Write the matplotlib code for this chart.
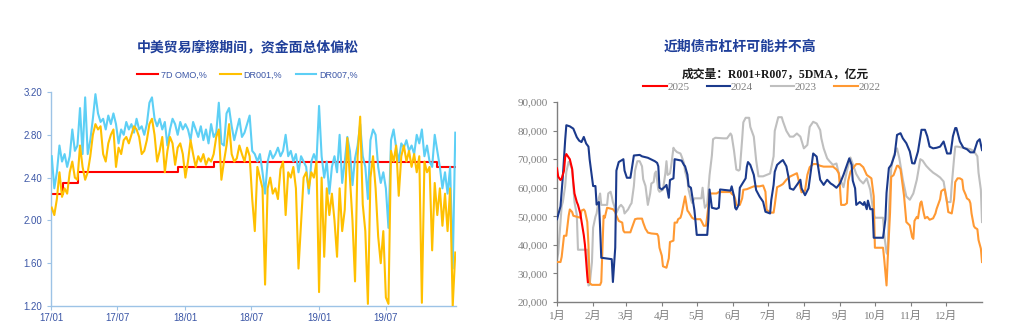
import matplotlib
matplotlib.use("Agg")
import matplotlib.pyplot as plt
import matplotlib.dates as mdates
from matplotlib.ticker import FuncFormatter
import pandas as pd

# ---------------- left panel data (weekly samples) ----------------
week_dates = pd.date_range("2017-01-03", periods=158, freq="7D")

dr001 = [
    2.12, 2.05, 2.20, 2.45, 2.22, 2.30, 2.25, 2.45, 2.55, 2.40,
    2.38, 2.70, 2.50, 2.38, 2.45, 2.60, 2.80, 2.90, 2.85, 2.88,
    2.62, 2.55, 2.72, 2.80, 2.85, 2.50, 2.68, 2.62, 2.75, 2.78,
    2.72, 2.80, 2.88, 2.85, 2.78, 2.62, 2.65, 2.75, 2.90, 2.95,
    2.80, 2.55, 2.65, 2.78, 2.45, 2.65, 2.78, 2.72, 2.52, 2.68,
    2.72, 2.62, 2.40, 2.55, 2.75, 2.62, 2.50, 2.60, 2.55, 2.62,
    2.52, 2.58, 2.55, 2.62, 2.78, 2.85, 2.38, 2.55, 2.70, 2.90,
    2.62, 2.55, 2.58, 2.70, 2.62, 2.55, 2.68, 2.60, 2.20, 1.90,
    2.50, 2.40, 2.30, 1.40, 2.30, 2.40, 2.25, 2.30, 2.20, 2.48,
    2.55, 2.05, 2.45, 2.40, 2.50, 2.30, 1.55, 1.97, 2.40, 2.45,
    2.30, 2.45, 2.40, 2.55, 1.33, 2.40, 1.66, 2.30, 2.05, 2.25,
    2.00, 1.66, 2.30, 1.90, 2.10, 2.77, 2.40, 2.00, 1.43, 2.60,
    2.97, 2.15, 1.90, 1.22, 2.40, 2.60, 2.30, 1.85, 1.60, 1.90,
    1.28, 1.22, 2.65, 2.55, 2.70, 2.23, 2.60, 2.70, 2.55, 2.65,
    2.50, 2.62, 2.45, 2.60, 1.23, 2.55, 2.45, 2.50, 1.72, 2.35,
    2.05, 2.30, 1.95, 2.25, 1.90, 2.30, 1.20, 1.70]

dr007 = [
    2.60, 2.30, 2.45, 2.70, 2.55, 2.62, 2.50, 2.60, 2.85, 2.65,
    2.70, 3.05, 2.62, 3.15, 2.62, 2.75, 2.95, 3.18, 3.00, 2.92,
    2.95, 2.85, 2.98, 2.90, 3.00, 2.90, 2.72, 2.85, 2.80, 2.92,
    2.85, 2.90, 2.82, 2.95, 2.85, 2.88, 2.80, 2.90, 3.10, 3.15,
    2.95, 2.88, 2.95, 2.85, 2.92, 2.70, 2.85, 2.95, 2.90, 2.80,
    2.92, 2.85, 2.90, 2.85, 2.75, 2.92, 2.85, 2.78, 2.88, 2.75,
    2.85, 2.72, 2.90, 2.78, 2.82, 3.10, 2.72, 2.70, 3.00, 3.05,
    2.88, 2.75, 2.85, 2.95, 2.78, 2.82, 2.90, 2.98, 2.65, 2.62,
    2.55, 2.62, 2.45, 2.25, 2.55, 2.65, 2.58, 2.62, 2.68, 2.60,
    2.65, 2.80, 2.60, 2.65, 2.55, 2.62, 2.45, 2.60, 2.55, 2.50,
    2.25, 2.55, 2.62, 2.55, 3.07, 2.60, 2.40, 2.55, 2.25, 2.50,
    2.60, 2.45, 2.80, 2.35, 2.55, 2.78, 2.65, 2.33, 2.58, 2.70,
    2.90, 2.60, 2.50, 2.20, 2.75, 2.85, 2.80, 2.50, 2.35, 2.45,
    2.30, 1.93, 2.75, 2.85, 2.68, 2.55, 2.72, 2.68, 2.75, 2.65,
    2.70, 2.62, 2.80, 2.72, 2.85, 2.60, 2.70, 2.55, 2.50, 2.80,
    2.65, 2.50, 2.30, 2.45, 2.25, 2.50, 1.55, 2.82]

omo_dates = pd.to_datetime(["2017-01-03", "2017-02-03", "2017-03-16", "2017-12-14",
                            "2018-03-22", "2019-11-18", "2020-01-07"])
omo_rates = [2.25, 2.35, 2.45, 2.50, 2.55, 2.50, 2.50]

left_yticks = [1.20, 1.60, 2.00, 2.40, 2.80, 3.20]
left_xticks = pd.to_datetime(["2017-01-01", "2017-07-01", "2018-01-01",
                              "2018-07-01", "2019-01-01", "2019-07-01"])

# ---------------- right panel data (day of year, 5DMA volume) ----------------
d2025 = [0, 1, 3, 4, 6, 7, 8, 10, 11, 13, 14, 15, 17, 18, 20, 21, 23, 24, 26, 26.5]
v2025 = [66800, 63900, 62700, 63200, 66000, 70700, 71800, 70600, 70000, 66600,
         62000, 58000, 55000, 54000, 51000, 48400, 43400, 40000, 29100, 27000]

d2024 = [0, 3, 5, 7, 8, 11, 14, 17, 19, 21, 23, 25, 27, 28, 30, 31, 33, 34, 36, 37,
         38, 47, 48, 50, 51, 53, 57, 58, 60, 63, 64, 66, 71, 73, 78, 84, 86, 87, 88, 90,
         93, 94, 96, 97, 100, 101, 107, 109, 110, 112, 113, 115, 116, 118, 119, 120, 129, 130, 131, 133,
         137, 139, 140, 149, 150, 152, 153, 154, 156, 157, 162, 163, 164, 166, 169, 171, 174, 177, 179, 183,
         184, 186, 187, 189, 192, 194, 197, 199, 200, 203, 206, 209, 210, 213, 216, 217, 219, 220, 223, 224,
         226, 229, 232, 235, 237, 240, 243, 246, 249, 251, 253, 254, 256, 257, 260, 263, 264, 266, 267, 269,
         271, 272, 280, 282, 283, 285, 287, 290, 292, 295, 297, 300, 303, 305, 307, 310, 313, 316, 318, 320,
         323, 326, 329, 332, 335, 338, 340, 342, 343, 346, 349, 352, 355, 358, 361, 363, 365]
v2024 = [49000, 53500, 63900, 76700, 81900, 81500, 80700, 77700, 76500, 76000,
         77800, 75500, 74400, 70000, 63900, 60600, 60600, 54100, 55000, 46000,
         35500, 35000, 27000, 39000, 66000, 69000, 70000, 66000, 63500, 63500,
         66000, 71300, 71500, 71000, 70500, 69300, 68700, 67500, 60000, 59400,
         60500, 61000, 56500, 62700, 63300, 70000, 69500, 68000, 67500, 64600,
         60600, 60000, 57300, 52100, 48000, 43500, 43500, 49000, 59400, 53000,
         52600, 53000, 59400, 59000, 60500, 57000, 53000, 52400, 54000, 60000,
         63300, 67300, 69000, 68000, 64500, 59200, 56900, 55100, 51600, 51000,
         55700, 61000, 65600, 68000, 69100, 69700, 67500, 63300, 59800, 59300,
         61000, 62800, 59800, 57400, 59800, 62800, 69100, 72000, 70900, 68000,
         62800, 61000, 62800, 61500, 61000, 60000, 61500, 64500, 68000, 70300,
         68000, 62500, 59800, 54000, 55000, 54000, 55000, 52500, 55500, 52500,
         52500, 42500, 42500, 48900, 58200, 66900, 68000, 71500, 78500, 79100,
         77300, 75600, 72700, 68600, 68500, 72700, 80300, 80300, 78000, 74400,
         73800, 74000, 74400, 76200, 72000, 72000, 78000, 80900, 80900, 76200,
         74000, 73500, 72400, 72400, 76200, 77000, 73200]

d2023 = [0, 1, 3, 4, 5, 7, 8, 10, 11, 13, 14, 15, 17, 18, 26, 27, 28, 30, 31, 33,
         34, 36, 37, 38, 43, 44, 46, 47, 48, 50, 51, 53, 54, 55, 57, 58, 61, 63, 64, 66,
         67, 69, 71, 73, 74, 76, 77, 78, 80, 81, 83, 84, 85, 87, 88, 91, 93, 94, 95, 97,
         98, 100, 101, 103, 106, 107, 109, 110, 112, 113, 115, 116, 118, 124, 125, 126, 127, 129, 130, 131,
         133, 134, 136, 143, 146, 149, 150, 152, 154, 156, 157, 159, 160, 162, 165, 166, 169, 171, 173, 177,
         180, 183, 186, 187, 190, 193, 194, 197, 200, 203, 206, 209, 212, 215, 217, 220, 223, 226, 227, 229,
         232, 234, 237, 240, 243, 246, 249, 252, 254, 257, 260, 263, 266, 269, 272, 273, 280, 281, 283, 284,
         285, 287, 289, 292, 294, 297, 300, 303, 306, 309, 312, 314, 317, 320, 323, 326, 329, 332, 335, 338,
         339, 341, 342, 344, 355, 358, 361, 362, 364, 365]
v2023 = [35000, 37000, 47800, 53600, 55000, 60600, 65600, 69100, 68500, 66400,
         60600, 55000, 50500, 38300, 38300, 25800, 26000, 34000, 46000, 49900,
         51000, 56500, 58000, 54000, 54000, 58000, 58600, 57000, 55000, 52400,
         51200, 53000, 53600, 54000, 53000, 51000, 52400, 54000, 54600, 60600,
         66000, 69300, 69300, 67500, 63000, 60600, 57400, 54000, 58000, 61500,
         62000, 65000, 65700, 59300, 58600, 59300, 65000, 69300, 64500, 65000,
         67500, 74000, 73300, 72500, 72000, 71000, 68700, 65700, 62800, 59300,
         55900, 54700, 56300, 56300, 60000, 56000, 53000, 54200, 59300, 64400,
         71300, 77000, 77500, 77300, 77300, 79000, 78300, 73000, 66400, 66000,
         66400, 77000, 82900, 84500, 84500, 81300, 77900, 69700, 64000, 64000,
         64500, 65000, 71000, 79900, 84700, 84700, 83300, 79900, 77900, 77900,
         79000, 77900, 73800, 75000, 81300, 83100, 82500, 80200, 77300, 73800,
         70300, 69300, 68000, 68500, 63100, 60200, 66000, 70600, 68300, 64800,
         62700, 61500, 63300, 59300, 50600, 49500, 49500, 43500, 37300, 36700,
         52000, 66800, 71000, 73800, 70300, 62800, 57000, 55800, 58000, 62800,
         70000, 69500, 67700, 66400, 65300, 64500, 63600, 62200, 55000, 55000,
         61000, 70300, 74400, 74400, 73500, 72800, 71000, 65300, 59300, 48000]

d2022 = [0, 3, 4, 6, 8, 10, 11, 13, 14, 20, 21, 23, 24, 26, 27, 28, 30, 37, 38, 40,
         41, 43, 48, 50, 51, 53, 56, 57, 58, 63, 64, 66, 67, 69, 73, 74, 76, 77, 78, 81,
         86, 87, 88, 90, 91, 94, 96, 97, 100, 101, 103, 104, 106, 107, 109, 110, 112, 113, 115, 116,
         118, 123, 124, 126, 128, 129, 130, 131, 137, 139, 149, 150, 152, 153, 154, 157, 159, 160, 163, 166,
         169, 174, 177, 179, 180, 183, 186, 187, 189, 192, 194, 197, 200, 203, 206, 209, 210, 213, 215, 217,
         220, 223, 226, 229, 237, 240, 242, 243, 244, 247, 249, 250, 252, 254, 257, 260, 263, 266, 269, 270,
         272, 273, 280, 281, 283, 284, 286, 287, 289, 292, 293, 295, 296, 298, 300, 303, 305, 306, 307, 309,
         310, 312, 313, 315, 316, 318, 320, 323, 325, 326, 329, 330, 332, 333, 335, 336, 339, 341, 342, 344,
         346, 348, 349, 351, 352, 354, 355, 356, 358, 359, 361, 362, 364, 365]
v2022 = [34000, 34000, 35800, 43200, 43200, 50200, 52400, 51500, 50200, 49500,
         52000, 52400, 51800, 48000, 40000, 26600, 26000, 26000, 27000, 50200,
         49500, 53000, 52500, 51500, 50200, 48400, 47800, 45000, 44400, 44400,
         45600, 47800, 49000, 49200, 49200, 47800, 45600, 45000, 44300, 44000,
         43800, 43000, 39000, 36200, 32500, 32000, 35300, 41000, 41500, 47800,
         47800, 49000, 49500, 50800, 55000, 57000, 52000, 51500, 50200, 49500,
         49000, 49000, 48400, 46700, 46700, 50200, 53500, 58000, 58000, 58500,
         58500, 57900, 57300, 56100, 54000, 54000, 56300, 59300, 59500, 60000,
         60500, 60500, 60800, 58600, 52300, 51300, 51300, 54000, 60200, 60800,
         61300, 62800, 63900, 64500, 65100, 60200, 58400, 59000, 64500, 67200,
         68300, 68300, 67700, 67400, 67400, 66400, 65100, 60200, 54000, 54000,
         54600, 62300, 65600, 66800, 68300, 68300, 67200, 64500, 63600, 63300,
         57000, 39000, 39000, 35000, 25800, 35000, 51200, 63800, 64400, 67700,
         67700, 66500, 63500, 57300, 48000, 46800, 42700, 42100, 48400, 49800,
         49300, 54600, 55200, 51000, 49300, 49800, 48800, 49300, 51000, 52600,
         56000, 58800, 59400, 59400, 54600, 51500, 51000, 56000, 62000, 63300,
         63300, 62800, 59400, 57500, 56300, 55700, 54600, 51000, 46600, 46000,
         45500, 41700, 38700, 34000]

month_starts = [0, 31, 59, 90, 120, 151, 181, 212, 243, 273, 304, 334]
month_labels = ["1月", "2月", "3月", "4月", "5月", "6月",
                "7月", "8月", "9月", "10月", "11月", "12月"]
right_yticks = [20000, 30000, 40000, 50000, 60000, 70000, 80000, 90000]

# ---------------- figure ----------------
plt.rcParams["font.family"] = ["Liberation Sans", "Noto Sans CJK SC"]
fig = plt.figure(figsize=(10.10, 3.31), dpi=100)

title_color = "#1F3F9A"
cjk = ["Noto Sans CJK SC"]

# left panel
ax1 = fig.add_axes([0.0505, 0.0755, 0.401, 0.6465])
axis_blue = "#9DC3E6"
tick_blue = "#3B56A6"

ax1.step(omo_dates, omo_rates, where="post", color="#FF0000", lw=1.5, zorder=2, label="7D OMO,%")
ax1.plot(week_dates, dr007, color="#5DCFF5", lw=1.5, zorder=3, label="DR007,%")
ax1.plot(week_dates, dr001, color="#FFC000", lw=1.5, zorder=4, label="DR001,%")

ax1.set_ylim(1.20, 3.20)
ax1.set_yticks(left_yticks)
ax1.yaxis.set_major_formatter(FuncFormatter(lambda v, p: f"{v:.2f}"))
ax1.set_xlim(pd.Timestamp("2017-01-01"), pd.Timestamp("2020-01-09"))
ax1.set_xticks(left_xticks)
ax1.xaxis.set_major_formatter(mdates.DateFormatter("%y/%m"))
for s in ["top", "right"]:
    ax1.spines[s].set_visible(False)
for s in ["left", "bottom"]:
    ax1.spines[s].set_color(axis_blue)
    ax1.spines[s].set_linewidth(1.0)
ax1.tick_params(axis="both", colors=axis_blue, labelcolor=tick_blue, labelsize=7, length=3, width=0.8)
ax1.tick_params(axis="x", pad=2)

h, l = ax1.get_legend_handles_labels()
order = [0, 2, 1]
leg1 = ax1.legend([h[i] for i in order], [l[i] for i in order], loc="lower center",
                  bbox_to_anchor=(0.485, 1.02), ncol=3, frameon=False, fontsize=6.5,
                  handlelength=2.3, columnspacing=1.5, handletextpad=0.3)
for t in leg1.get_texts():
    t.set_color(tick_blue)

fig.text(0.245, 0.858, "中美贸易摩擦期间，资金面总体偏松", ha="center", va="center",
         fontsize=10, fontweight="bold", color=title_color, family=cjk)

# right panel
ax2 = fig.add_axes([0.5515, 0.0876, 0.4208, 0.604])
gray_axis = "#7F7F7F"
ax2.plot(d2023, v2023, color="#BFBFBF", lw=1.5, zorder=2, label="2023")
ax2.plot(d2022, v2022, color="#FF9933", lw=1.5, zorder=3, label="2022")
ax2.plot(d2024, v2024, color="#1B3A8C", lw=1.5, zorder=4, label="2024")
ax2.plot(d2025, v2025, color="#FF0000", lw=1.5, zorder=5, label="2025")

ax2.set_xlim(0, 365)
ax2.set_ylim(20000, 90000)
ax2.set_xticks(month_starts)
ax2.set_xticklabels(month_labels, family=["Liberation Serif", "Noto Sans CJK SC"])
ax2.set_yticks(right_yticks)
ax2.yaxis.set_major_formatter(FuncFormatter(lambda v, p: f"{int(v):,}"))
for lbl in ax2.get_yticklabels():
    lbl.set_family("Liberation Serif")
for s in ["top", "right"]:
    ax2.spines[s].set_visible(False)
for s in ["left", "bottom"]:
    ax2.spines[s].set_color(gray_axis)
    ax2.spines[s].set_linewidth(1.0)
ax2.tick_params(axis="both", colors=gray_axis, labelcolor=gray_axis, labelsize=8, length=3, width=0.8)

h2, l2 = ax2.get_legend_handles_labels()
order2 = [3, 2, 0, 1]
leg2 = ax2.legend([h2[i] for i in order2], [l2[i] for i in order2], loc="lower center",
                  bbox_to_anchor=(0.482, 1.0), ncol=4, frameon=False,
                  prop={"family": "Liberation Serif", "size": 8},
                  handlelength=2.1, columnspacing=1.6, handletextpad=0.05)
for t in leg2.get_texts():
    t.set_color(gray_axis)

fig.text(0.733, 0.858, "近期债市杠杆可能并不高", ha="center", va="center",
         fontsize=10, fontweight="bold", color=title_color, family=cjk)
fig.text(0.768, 0.776, "成交量：R001+R007，5DMA，亿元", ha="center", va="center",
         fontsize=8.5, fontweight="bold", color="#1A1A1A",
         family=["Liberation Serif", "Noto Sans CJK SC"])

fig.savefig("out.png", dpi=100)
